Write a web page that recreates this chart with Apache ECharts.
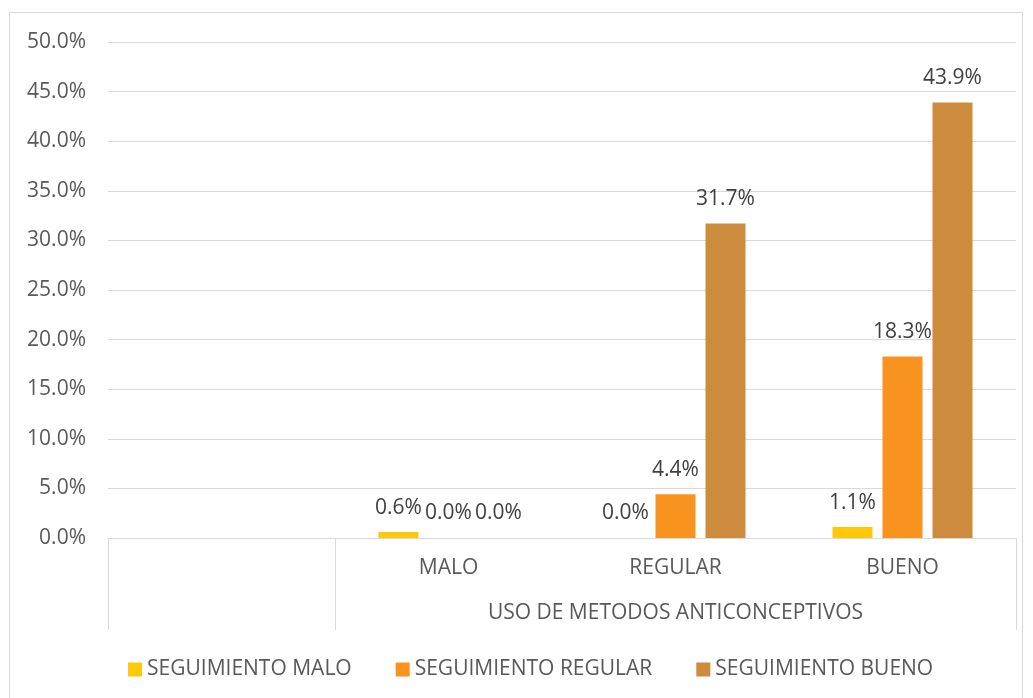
<!DOCTYPE html>
<html>
<head>
<meta charset="utf-8">
<script src="https://cdn.jsdelivr.net/npm/echarts@6/dist/echarts.min.js"></script>
<style>
  html, body { margin: 0; padding: 0; background: #fff; }
  #chart { width: 1033px; height: 698px; }
</style>
</head>
<body>
<div id="chart"></div>
<script>
// categories of the first axis row (first one is blank in the original)
const categories = ['', 'MALO', 'REGULAR', 'BUENO'];
const groupName = 'USO DE METODOS ANTICONCEPTIVOS';
const seriesNames = ['SEGUIMIENTO MALO', 'SEGUIMIENTO REGULAR', 'SEGUIMIENTO BUENO'];
const seguimientoMalo = [null, 0.6, 0.0, 1.1];
const seguimientoRegular = [null, 0.0, 4.4, 18.3];
const seguimientoBueno = [null, 0.0, 31.7, 43.9];
const colors = ['#FFC90A', '#F7931E', '#CD8B3E'];

const fontFamily = '"Open Sans", "Liberation Sans", sans-serif';
const pct = v => v.toFixed(1) + '%';

function makeSeries(name, data, color) {
  return {
    name: name,
    type: 'bar',
    data: data,
    barWidth: 40,
    barGap: '25%',
    itemStyle: { color: color },
    label: {
      show: true,
      position: 'top',
      distance: 14,
      color: '#404040',
      fontSize: 21,
      fontFamily: fontFamily,
      formatter: p => pct(p.value)
    }
  };
}

var chart = echarts.init(document.getElementById('chart'));
chart.setOption({
  animation: false,
  color: colors,
  textStyle: { fontFamily: fontFamily },
  graphic: [{
    type: 'rect',
    shape: { x: 9.5, y: 12.5, width: 1013, height: 700 },
    style: { fill: 'none', stroke: '#d9d9d9', lineWidth: 1 },
    silent: true
  }],
  grid: { left: 108, right: 17, top: 42, bottom: 160 },
  legend: {
    left: 123,
    top: 654,
    itemWidth: 14,
    itemHeight: 14,
    itemGap: 44,
    icon: 'rect',
    textStyle: { fontSize: 21, color: '#595959', fontFamily: fontFamily },
    data: seriesNames
  },
  xAxis: [{
    type: 'category',
    data: categories,
    axisLine: { show: true, lineStyle: { color: '#d9d9d9' } },
    axisTick: {
      show: true,
      length: 92,
      interval: function (i) { return i <= 1; },
      lineStyle: { color: '#d9d9d9' }
    },
    axisLabel: { fontSize: 21, color: '#595959', margin: 20 },
    splitLine: { show: false }
  }, {
    type: 'value',
    position: 'bottom',
    min: 0,
    max: 4,
    interval: 0.5,
    axisLine: { show: false },
    axisTick: { show: false },
    splitLine: { show: false },
    axisLabel: {
      fontSize: 21,
      color: '#595959',
      margin: 65,
      showMinLabel: true,
      showMaxLabel: true,
      formatter: v => (v === 2.5 ? groupName : '')
    }
  }],
  yAxis: {
    type: 'value',
    min: 0,
    max: 50,
    interval: 5,
    axisLine: { show: false },
    axisTick: { show: false },
    axisLabel: { fontSize: 21, color: '#595959', margin: 22, formatter: v => pct(v) },
    splitLine: { lineStyle: { color: '#d9d9d9' } }
  },
  series: [
    makeSeries(seriesNames[0], seguimientoMalo, colors[0]),
    makeSeries(seriesNames[1], seguimientoRegular, colors[1]),
    makeSeries(seriesNames[2], seguimientoBueno, colors[2])
  ]
});
</script>
</body>
</html>
